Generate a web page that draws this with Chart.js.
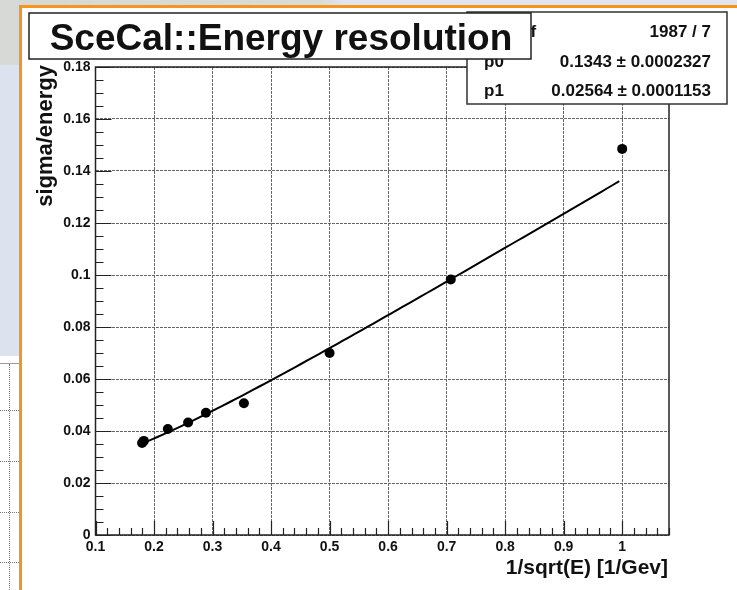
<!DOCTYPE html>
<html>
<head>
<meta charset="utf-8">
<title>SceCal energy resolution</title>
<script src="https://cdn.jsdelivr.net/npm/chart.js@4.4.1/dist/chart.umd.min.js"></script>
<style>
  html, body { margin: 0; padding: 0; }
  body {
    width: 737px; height: 590px; position: relative; overflow: hidden;
    background: #fff; font-family: "Liberation Sans", Arial, sans-serif;
  }
  /* slide decoration around the plot */
  .deco { position: absolute; }
  #topStrip  { left: 0; top: 0; width: 737px; height: 5px;
               background: linear-gradient(to right, #d5d8d4 0, #d9dbd8 320px, #dfe5f0 345px, #dfe5f0 100%); }
  #leftTop   { left: 0; top: 0; width: 19px; height: 65px; background: #d7d9d6; }
  #leftPanel { left: 0; top: 65px; width: 19px; height: 291px; background: #dce3ef; }
  #tableRule { left: 0; top: 363px; width: 19px; height: 1px; background: #9a9a9a; }
  #tableV    { left: 9px; top: 364px; width: 0; height: 226px; border-left: 1px dotted #777; }
  .tableH    { left: 0; width: 19px; height: 0; border-top: 1px dotted #777; }
  #orangeTop { left: 19px; top: 5px; width: 718px; height: 3px; background: #f7941d; }
  #orangeLeft{ left: 19px; top: 5px; width: 3px; height: 585px; background: #f7941d; }
  #plot { position: absolute; left: 0; top: 0; }
</style>
</head>
<body>
<div class="deco" id="topStrip"></div>
<div class="deco" id="leftTop"></div>
<div class="deco" id="leftPanel"></div>
<div class="deco" id="tableRule"></div>
<div class="deco" id="tableV"></div>
<div class="deco tableH" style="top:410px"></div>
<div class="deco tableH" style="top:461px"></div>
<div class="deco tableH" style="top:512px"></div>
<div class="deco tableH" style="top:562px"></div>
<div class="deco" id="orangeTop"></div>
<div class="deco" id="orangeLeft"></div>

<canvas id="plot" width="737" height="590"></canvas>

<script>
// ==============================
// DATA
// ==============================
const invSqrtE   = [0.1796, 0.1826, 0.2236, 0.2582, 0.2887, 0.3536, 0.5, 0.7071, 1.0];
const sigmaOverE = [0.0354, 0.0362, 0.0408, 0.0433, 0.0470, 0.0507, 0.0700, 0.0983, 0.1485];

// fit result: sigma/E = sqrt((p0/sqrt(E))^2 + p1^2)
const fitP0 = 0.1343, fitP0Err = 0.0002327;
const fitP1 = 0.02564, fitP1Err = 0.0001153;
const fitChi2 = 1987, fitNdf = 7;
const fitFrom = 0.175, fitTo = 0.995;

const xTickLabels = ["0.1", "0.2", "0.3", "0.4", "0.5", "0.6", "0.7", "0.8", "0.9", "1"];
const yTickLabels = ["0", "0.02", "0.04", "0.06", "0.08", "0.1", "0.12", "0.14", "0.16", "0.18"];

const titleText = "SceCal::Energy resolution";
const xTitle = "1/sqrt(E) [1/Gev]";
const yTitle = "sigma/energy";

// ==============================
// FIT CURVE
// ==============================
function fitCurve(n) {
  const pts = [];
  for (let i = 0; i <= n; i++) {
    const x = fitFrom + (fitTo - fitFrom) * i / n;
    pts.push({ x, y: Math.sqrt((fitP0 * x) ** 2 + fitP1 ** 2) });
  }
  return pts;
}

const FONT = '"Liberation Sans", Arial, sans-serif';

// ==============================
// ROOT-style frame, ticks, titles, boxes
// ==============================
const rootDecor = {
  id: "rootDecor",
  afterDraw(chart) {
    const ctx = chart.ctx;
    const xs = chart.scales.x, ys = chart.scales.y;
    const { left, right, top, bottom } = chart.chartArea;

    ctx.save();

    // frame
    ctx.strokeStyle = "#222";
    ctx.lineWidth = 1.5;
    ctx.strokeRect(left, top, right - left, bottom - top);

    // ticks pointing into the frame
    ctx.lineWidth = 1.2;
    ctx.beginPath();
    for (let i = 0; ; i++) {
      const v = 0.1 + i * 0.02;
      if (v > xs.max + 1e-9) break;
      const px = Math.round(xs.getPixelForValue(v)) + 0.5;
      const len = i % 5 === 0 ? 14 : 7;
      ctx.moveTo(px, bottom);
      ctx.lineTo(px, bottom - len);
    }
    for (let i = 0; ; i++) {
      const v = i * 0.005;
      if (v > ys.max + 1e-9) break;
      const py = Math.round(ys.getPixelForValue(v)) + 0.5;
      const len = i % 4 === 0 ? 16 : 8;
      ctx.moveTo(left, py);
      ctx.lineTo(left + len, py);
    }
    ctx.stroke();

    // axis titles
    ctx.fillStyle = "#111";
    ctx.font = `bold 21px ${FONT}`;
    ctx.textAlign = "right";
    ctx.textBaseline = "alphabetic";
    ctx.fillText(xTitle, right - 1, 574);

    ctx.save();
    ctx.font = `bold 22px ${FONT}`;
    ctx.translate(52, 65);
    ctx.rotate(-Math.PI / 2);
    ctx.fillText(yTitle, 0, 0);
    ctx.restore();

    // stats box
    const sb = { x: 467, y: 12, w: 260, h: 92 };
    ctx.fillStyle = "#fff";
    ctx.fillRect(sb.x, sb.y, sb.w, sb.h);
    ctx.strokeStyle = "#333";
    ctx.lineWidth = 1.5;
    ctx.strokeRect(sb.x, sb.y, sb.w, sb.h);

    ctx.fillStyle = "#111";
    ctx.font = `bold 17px ${FONT}`;
    const rows = [
      ["\u03C7\u00B2 / ndf", `${fitChi2} / ${fitNdf}`, 37, 480],
      ["p0", `${fitP0} \u00B1 ${fitP0Err}`, 66.5, 484],
      ["p1", `${fitP1} \u00B1 ${fitP1Err}`, 96, 484]
    ];
    rows.forEach(([lab, val, y, lx]) => {
      ctx.textAlign = "left";
      ctx.fillText(lab, lx, y);
      ctx.textAlign = "right";
      ctx.fillText(val, 711, y);
    });

    // title box (sits over the stats box)
    const tb = { x: 29, y: 13, w: 502, h: 46 };
    ctx.fillStyle = "#fff";
    ctx.fillRect(tb.x, tb.y, tb.w, tb.h);
    ctx.strokeStyle = "#222";
    ctx.lineWidth = 1.5;
    ctx.strokeRect(tb.x, tb.y, tb.w, tb.h);
    ctx.fillStyle = "#111";
    ctx.font = `bold 37px ${FONT}`;
    ctx.textAlign = "center";
    ctx.fillText(titleText, tb.x + tb.w / 2 + 1, 50);

    ctx.restore();
  }
};

// ==============================
// CHART
// ==============================
const gridStyle = { color: "#666", lineWidth: 1, drawTicks: false };

new Chart(document.getElementById("plot"), {
  type: "scatter",
  data: {
    datasets: [
      {
        label: "data",
        data: invSqrtE.map((x, i) => ({ x, y: sigmaOverE[i] })),
        pointRadius: 5,
        pointBackgroundColor: "#000",
        pointBorderWidth: 0,
        showLine: false
      },
      {
        label: "fit",
        data: fitCurve(80),
        showLine: true,
        pointRadius: 0,
        borderColor: "#000",
        borderWidth: 2,
        tension: 0
      }
    ]
  },
  options: {
    responsive: false,
    animation: false,
    devicePixelRatio: 1,
    layout: { padding: { left: 0, top: 67, right: 68, bottom: 0 } },
    plugins: {
      legend: { display: false },
      tooltip: { enabled: false }
    },
    scales: {
      x: {
        type: "linear",
        min: 0.1,
        max: 1.08,
        grid: gridStyle,
        border: { display: false, dash: [3, 1] },
        ticks: {
          stepSize: 0.1,
          includeBounds: false,
          padding: 4,
          maxRotation: 0,
          color: "#111",
          font: { family: FONT, size: 14, weight: "bold" },
          callback: (v) => xTickLabels[Math.round((v - 0.1) * 10)] ?? ""
        },
        afterFit: (s) => { s.height = 55; }
      },
      y: {
        type: "linear",
        min: 0,
        max: 0.18,
        grid: gridStyle,
        border: { display: false, dash: [3, 1] },
        ticks: {
          stepSize: 0.02,
          padding: 5,
          color: "#111",
          font: { family: FONT, size: 14, weight: "bold" },
          callback: (v) => yTickLabels[Math.round(v / 0.02)] ?? ""
        },
        afterFit: (s) => { s.width = 95.5; }
      }
    }
  },
  plugins: [rootDecor]
});
</script>
</body>
</html>
